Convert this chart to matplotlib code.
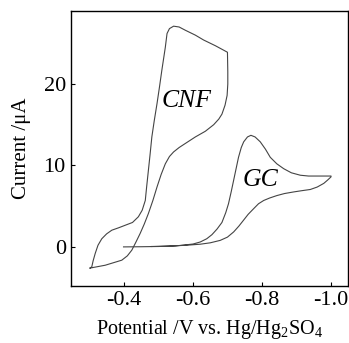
import matplotlib.pyplot as plt

plt.rcParams['font.family'] = ['Liberation Serif', 'DejaVu Serif']
plt.rcParams['mathtext.fontset'] = 'custom'
plt.rcParams['mathtext.rm'] = 'Liberation Serif'

# CNF electrode: forward scan then reverse scan
cnf_x = [-0.302, -0.346, -0.394, -0.410, -0.423, -0.435, -0.447, -0.459, -0.471, -0.484,
         -0.496, -0.508, -0.520, -0.532, -0.544, -0.560, -0.578, -0.607, -0.636, -0.660,
         -0.675, -0.684, -0.693, -0.699, -0.701, -0.701, -0.700,
         -0.665, -0.631, -0.607, -0.578, -0.560, -0.544, -0.532, -0.525, -0.520, -0.515,
         -0.510, -0.503, -0.496, -0.488, -0.481, -0.476, -0.471, -0.466, -0.462, -0.453,
         -0.442, -0.425, -0.404, -0.385, -0.365, -0.350, -0.336, -0.325, -0.317, -0.311,
         -0.307, -0.302]
cnf_y = [-2.6, -2.25, -1.63, -1.1, -0.4, 0.6, 1.64, 2.8, 4.1, 5.7,
         7.36, 8.9, 10.2, 11.1, 11.66, 12.2, 12.7, 13.5, 14.2, 15.0,
         15.7, 16.3, 17.4, 18.6, 20.0, 21.5, 23.9,
         24.7, 25.4, 26.0, 26.6, 27.0, 27.1, 26.8, 26.2, 24.5, 23.1,
         21.7, 19.6, 17.6, 15.5, 13.5, 11.4, 9.4, 7.4, 5.7, 4.5,
         3.7, 3.0, 2.66, 2.35, 2.05, 1.6, 1.0, 0.2, -0.8, -1.7,
         -2.45, -2.6]

# GC electrode
gc_x = [-0.399, -0.450, -0.500, -0.550, -0.600, -0.621, -0.640, -0.655, -0.670, -0.684,
        -0.695, -0.703, -0.711, -0.718, -0.725, -0.732, -0.740, -0.747, -0.758, -0.768,
        -0.780, -0.795, -0.810, -0.824, -0.843, -0.863, -0.885, -0.911, -0.935, -0.959,
        -0.980, -1.000,
        -1.000, -0.990, -0.979, -0.960, -0.940, -0.915, -0.892, -0.865, -0.843, -0.822,
        -0.805, -0.790, -0.776, -0.760, -0.747, -0.733, -0.718, -0.700, -0.679, -0.650,
        -0.621, -0.580, -0.530, -0.480]
gc_y = [0.0, 0.02, 0.05, 0.12, 0.35, 0.6, 1.0, 1.5, 2.2, 3.0,
        4.2, 5.3, 6.8, 8.2, 9.6, 11.0, 12.2, 12.9, 13.5, 13.7,
        13.5, 12.9, 12.0, 11.0, 10.2, 9.6, 9.1, 8.8, 8.7, 8.7,
        8.7, 8.7,
        8.6, 8.2, 7.8, 7.35, 7.05, 6.9, 6.75, 6.55, 6.3, 6.0,
        5.7, 5.3, 4.7, 4.0, 3.3, 2.55, 1.84, 1.2, 0.8, 0.5,
        0.33, 0.2, 0.1, 0.05]

x_ticks = [-0.4, -0.6, -0.8, -1.0]
x_tick_labels = ['-0.4', '-0.6', '-0.8', '-1.0']
y_ticks = [0, 10, 20]

fig = plt.figure(figsize=(3.49, 3.43), dpi=100)
ax = fig.add_axes([0.2026, 0.1662, 0.7944, 0.8026])

ax.plot(cnf_x, cnf_y, color='#444444', lw=0.8)
ax.plot(gc_x, gc_y, color='#444444', lw=0.8)

ax.text(-0.583, 17.9, 'CNF', style='italic', fontsize=18.5, ha='center', va='center')
ax.text(-0.795, 8.2, 'GC', style='italic', fontsize=18.5, ha='center', va='center')

ax.set_xlim(-0.246, -1.049)
ax.set_ylim(-4.8, 29.0)
ax.set_xticks(x_ticks)
ax.set_xticklabels(x_tick_labels)
ax.set_yticks(y_ticks)
ax.tick_params(direction='in', length=3, width=0.8, labelsize=16)
for s in ax.spines.values():
    s.set_linewidth(1.0)

ax.set_xlabel('Potential /V vs. Hg/Hg$_2$SO$_4$', fontsize=14.5, labelpad=6)
ax.set_ylabel('Current /\u03bcA', fontsize=15, labelpad=9)

fig.savefig('out.png', dpi=100)
